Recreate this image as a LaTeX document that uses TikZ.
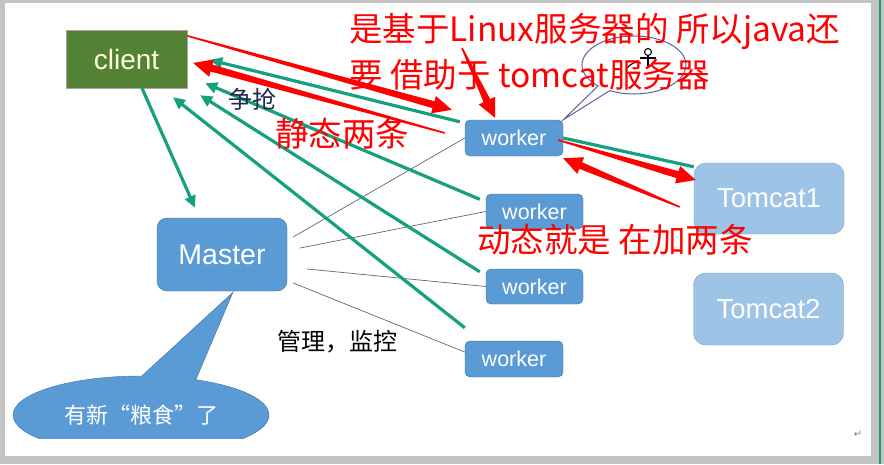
\documentclass[tikz,border=0pt]{standalone}
\usepackage{fontspec}
\setmainfont{Liberation Sans}
\newfontfamily\cjk{Noto Sans CJK SC}
\newfontfamily\symfont{DejaVu Sans}
\usetikzlibrary{arrows.meta,positioning,calc,shapes.callouts}
\definecolor{boxblue}{RGB}{91,155,213}
\definecolor{boxedge}{RGB}{65,113,156}
\definecolor{tomblue}{RGB}{157,195,230}
\definecolor{tomedge}{RGB}{122,160,200}
\definecolor{clientgreen}{RGB}{84,130,53}
\definecolor{grabteal}{RGB}{22,160,125}
\definecolor{navy}{RGB}{31,42,76}
\definecolor{framegray}{RGB}{195,195,195}
% tapered red marker arrow: thin tail, fat head
\newcommand\redarrow[2]{%
  \path #1 coordinate (ra-s) #2 coordinate (ra-e);
  \coordinate (ra-b) at ($(ra-e)!19pt!(ra-s)$);
  \fill[red] ($(ra-s)!0.8pt!90:(ra-e)$) -- ($(ra-b)!3.6pt!90:(ra-e)$)
    -- ($(ra-b)!9pt!90:(ra-e)$) -- (ra-e) -- ($(ra-b)!9pt!-90:(ra-e)$)
    -- ($(ra-b)!3.6pt!-90:(ra-e)$) -- ($(ra-s)!0.8pt!-90:(ra-e)$) -- cycle;}

\begin{document}
\begin{tikzpicture}[x=1pt,y=-1pt,
  box/.style={draw=boxedge,fill=boxblue,rounded corners=5pt,text=white,inner sep=0pt},
  worker/.style={box,minimum width=98pt,minimum height=36pt,font=\fontsize{21.5}{24}\selectfont},
  tomcat/.style={draw=tomedge,fill=tomblue,rounded corners=12pt,minimum width=150pt,
    minimum height=71pt,inner sep=0pt,text=white,font=\fontsize{27.5}{30}\selectfont},
  grab/.style={draw=grabteal,line width=3.2pt,-{Triangle[length=12pt,width=11pt]}},
  manage/.style={draw=black!60,line width=0.7pt},
  note/.style={text=red,font=\cjk\fontsize{33.5}{40}\selectfont,inner sep=0pt},
  lbl/.style={font=\cjk\fontsize{24}{28}\selectfont,inner sep=0pt}]
\useasboundingbox (0,0) rectangle (884,464);
% screenshot frame
\fill[framegray] (0,0) rectangle (884,464);
\fill[white] (5,3) rectangle (871,456);
\draw[grabteal,line width=1.5pt] (880,0) -- (880,464);

% boxes
\node[draw=gray!70,fill=clientgreen,minimum width=121pt,minimum height=58pt,inner sep=0pt,
  text=white!85!yellow,font=\fontsize{28}{30}\selectfont] (client) at (126.5,59) {client};
\node[box,rounded corners=10pt,minimum width=130pt,minimum height=73pt,
  font=\fontsize{28.5}{30}\selectfont] (master) at (222,254.5) {Master};
\node[worker] (w1) at (514,138)   {worker};
\node[worker,minimum width=97pt,minimum height=35pt] (w2) at (534.5,211.5) {worker};
\node[worker,minimum width=97pt,minimum height=35pt] (w3) at (534.5,286.5) {worker};
\node[worker] (w4) at (514,359)   {worker};
\node[tomcat] (t1) at (769,198.5) {Tomcat1};
\node[tomcat,minimum height=72pt] (t2) at (768.5,309) {Tomcat2};

% master manages the workers
\coordinate (m1) at ($(master.east)+(6,-17.5)$);
\coordinate (m2) at ($(master.east)+(13,-6.5)$);
\coordinate (m3) at ($(master.east)+(20,14.5)$);
\coordinate (m4) at ($(master.east)+(6,28.5)$);
\draw[manage] (m1) -- (w1.west);
\draw[manage] (m2) -- (w2.west);
\draw[manage] (m3) -- (w3.west);
\draw[manage] (m4) -- (w4.172);
\node[lbl] (watch) at (337,342) {管理，监控};

% workers grab from client
\coordinate (g1) at ($(w1.north west)+(-5,2)$);
\coordinate (g2) at ($(w2.north west)+(-6,5.5)$);
\coordinate (g3) at ($(w3.north west)+(-6,3)$);
\coordinate (g4) at ($(w4.north west)+(0,-13)$);
\coordinate (c1) at ($(client.east)+(23,1)$);
\coordinate (c2) at ($(client.south east)+(18,-5)$);
\coordinate (c3) at ($(client.south east)+(13,7)$);
\coordinate (c4) at ($(client.south)+(46.5,9)$);
\draw[grab] (g1) -- (c1);
\draw[grab] (g2) -- (c2);
\draw[grab] (g3) -- (c3);
\draw[grab] (g4) -- (c4);
\draw[grab] ($(client.south)+(15.5,0)$) -- ($(master.north)+(-27,-10)$);
\draw[grabteal,line width=3.2pt] (w1.east) -- ($(t1.north west)+(0,4)$);
\node[lbl,text=navy] (grabtxt) at (252,99) {争抢};

% thought bubble over the first worker
\node[ellipse callout,draw=gray!75!blue,fill=white,line width=1pt,minimum width=104pt,
  minimum height=58pt,callout absolute pointer={(w1.north east)},callout pointer arc=16]
  (bubble) at (634,65) {};
\draw[line width=1.1pt] (648,52) circle[radius=3.5];
\draw[line width=1.1pt] (640,58) -- (656,58) (648,56) -- (648,66);
\draw[line width=1.1pt] (626,70) .. controls (630,63) and (636,61) .. (641,63);

% news bubble under master
\begin{scope}
\clip (5,3) rectangle (871,438);
\node[ellipse callout,draw=boxedge,fill=boxblue,minimum width=256pt,minimum height=78pt,
  callout absolute pointer={($(master.south)+(11,1)$)},callout pointer arc=25,
  text=white,inner sep=0pt,font=\cjk\fontsize{22}{24}\selectfont] (food) at (141,415)
  {有新“粮食”了};
\end{scope}

% red marks
\redarrow{($(client.north east)+(0,6)$)}{($(w1.north west)+(-13,-10)$)}
\redarrow{($(w1.west)+(-20,-5)$)}{($(client.east)+(6,4)$)}
\redarrow{(462,48)}{($(w1.north)+(-19,-2)$)}
\redarrow{($(w1.east)+(-5,2)$)}{($(t1.west)+(2,-18.5)$)}
\redarrow{($(t1.west)+(-14,8.5)$)}{($(w1.south east)+(0,2)$)}
\node[note,anchor=west] (note1) at (349,31) {是基于Linux服务器的 所以java还};
\node[note,anchor=west] (note2) at (349,75) {要 借助于 tomcat服务器};
\node[note] (static) at (342,134) {静态两条};
\node[note,anchor=west] (dynamic) at (477,240) {动态就是 在加两条};
\node[text=gray,font=\symfont\fontsize{10}{12}\selectfont] (para) at (858,434) {↵};
\end{tikzpicture}
\end{document}
